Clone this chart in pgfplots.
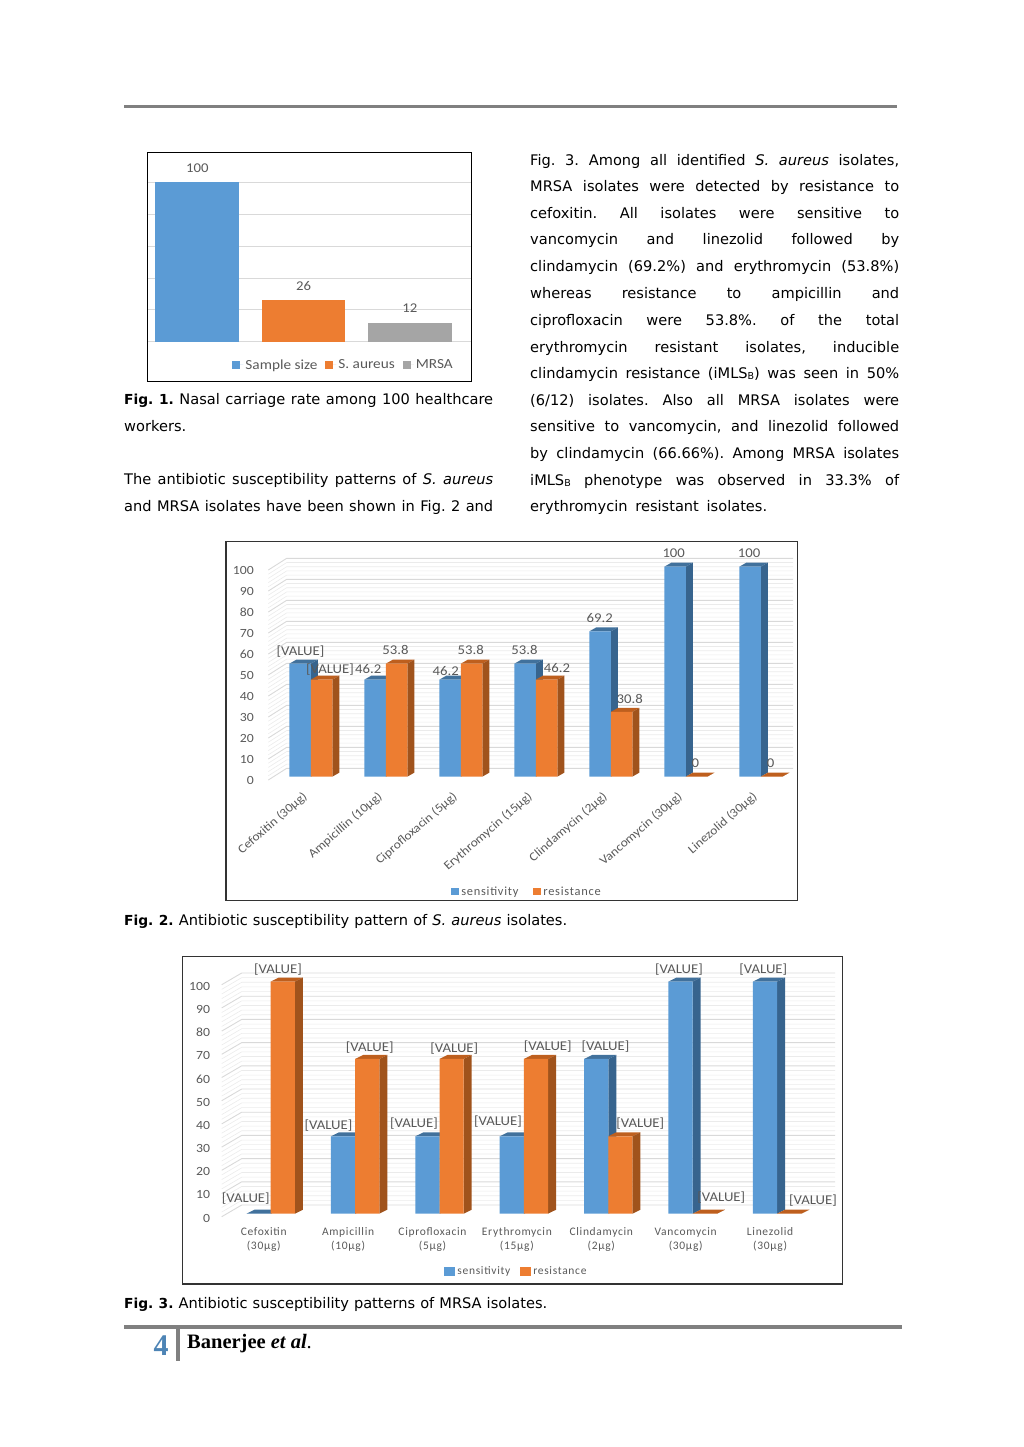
\documentclass[border=0pt]{standalone}
\usepackage{fontspec}
\usepackage{pgfplots}
\pgfplotsset{compat=1.18}
\setmainfont[FakeStretch=1.1]{Carlito}
\newfontfamily\bodyfont{DejaVu Sans}
\newfontfamily\timesfont{Liberation Serif}
\newfontfamily\spaced[LetterSpace=6]{Carlito}

\definecolor{cblue}{HTML}{5B9BD5}
\definecolor{corange}{HTML}{ED7D31}
\definecolor{cgray}{HTML}{A5A5A5}
\definecolor{cblueside}{HTML}{37648E}
\definecolor{cbluetop}{HTML}{41719C}
\definecolor{corangeside}{HTML}{A0531C}
\definecolor{corangetop}{HTML}{BE5F1E}
\definecolor{labelgray}{HTML}{595959}
\definecolor{rulegray}{HTML}{808080}

% one line of page text, stretched to a given width
\newcommand\jl[4]{\node[anchor=base west,inner sep=0pt] at (#1,#2) {\bodyfont\frenchspacing\fontsize{14.6}{16}\selectfont\makebox[#3pt][s]{#4}};}
\newcommand\lab[3]{\node[inner sep=0pt,text=labelgray,font=\fontsize{13.4}{15}\selectfont] at (#1,#2) {#3};}
\newcommand\sub[1]{\raisebox{-1pt}{\fontsize{9.5}{10}\selectfont #1}}
\newcommand\figl[1]{{\fontsize{13.8}{16}\selectfont\textbf{#1}}}

% slanted side and top of a bar, in axis units; \bw, \ddx, \ddy set per chart
\newcommand\faces[4]{%
  \pgfmathsetmacro\xl{#1+#2*\bw}%
  \pgfmathsetmacro\xr{\xl+\bw}%
  \pgfmathsetmacro\xlb{\xl+\ddx}%
  \pgfmathsetmacro\xrb{\xr+\ddx}%
  \pgfmathsetmacro\yb{#3+\ddy}%
  \addplot[fill=#4top,draw=none,mark=none,forget plot] coordinates {(\xl,#3)(\xr,#3)(\xrb,\yb)(\xlb,\yb)};
  \addplot[fill=#4side,draw=none,mark=none,forget plot] coordinates {(\xr,#3)(\xrb,\yb)(\xrb,\ddy)(\xr,0)};
}

% back wall and left wall lines of the 3D charts, in page pixels
\newcommand\wall[6]{% front x, back x, right x, back y of 0, px per unit, depth y
  \foreach \v in {0,2,...,100}{
    \pgfmathsetmacro\yy{#4-#5*\v}
    \pgfmathsetmacro\yf{\yy+#6}
    \pgfmathtruncatemacro\m{mod(\v,10)}
    \ifnum\m=0
      \draw[color=black!15,line width=0.9pt] (#1,\yf) -- (#2,\yy) -- (#3,\yy);
    \else
      \draw[color=black!8,line width=0.6pt] (#1,\yf) -- (#2,\yy) -- (#3,\yy);
    \fi
  }
}

\pgfplotsset{
  pagechart/.style={
    scale only axis, anchor=south west,
    axis line style={line width=1.3pt,color=black!80},
    major tick length=0pt,
    /pgf/number format/assume math mode=true,
    legend cell align=left,
    legend image code/.code={\fill[##1] (0pt,-3.5pt) rectangle (8pt,4pt);},
  },
  threed/.style={
    ymin=#1,
    ytick={0,10,...,100},
    xtick={0,1,2,3,4,5,6},
    yticklabel style={anchor=east,inner sep=0pt,text=labelgray,font=\fontsize{12.5}{14}\selectfont},
  },
}

\begin{document}
\begin{tikzpicture}[x=1pt,y=-1pt]
\path (0,0) rectangle (1023,1447);

% page rules
\draw[rulegray,line width=2.6pt] (124,106.5) -- (897,106.5);
\draw[rulegray,line width=4pt] (124,1327) -- (902,1327);
\draw[rulegray,line width=3.5pt] (178,1329) -- (178,1361);

% right column
\jl{530}{165.5}{369}{Fig. 3. Among all identified \textit{S. aureus} isolates,}
\jl{530}{192}{369}{MRSA isolates were detected by resistance to}
\jl{530}{218.5}{369}{cefoxitin. All isolates were sensitive to}
\jl{530}{245}{369}{vancomycin and linezolid followed by}
\jl{530}{272}{369}{clindamycin (69.2\%) and erythromycin (53.8\%)}
\jl{530}{298.5}{369}{whereas resistance to ampicillin and}
\jl{530}{325}{369}{ciprofloxacin were 53.8\%. of the total}
\jl{530}{352}{369}{erythromycin resistant isolates, inducible}
\jl{530}{378}{369}{clindamycin resistance (iMLS\sub{B}) was seen in 50\%}
\jl{530}{405}{369}{(6/12) isolates. Also all MRSA isolates were}
\jl{530}{431}{369}{sensitive to vancomycin, and linezolid followed}
\jl{530}{458}{369}{by clindamycin (66.66\%). Among MRSA isolates}
\jl{530}{485}{369}{iMLS\sub{B} phenotype was observed in 33.3\% of}
\jl{530}{511}{237}{erythromycin resistant isolates.}

% left column
\jl{124}{404}{369}{\figl{Fig. 1.} Nasal carriage rate among 100 healthcare}
\jl{124}{431}{62}{workers.}
\jl{124}{484}{369}{The antibiotic susceptibility patterns of \textit{S. aureus}}
\jl{124}{511}{369}{and MRSA isolates have been shown in Fig. 2 and}

% captions
\jl{124}{925}{443}{\figl{Fig. 2.} Antibiotic susceptibility pattern of \textit{S. aureus} isolates.}
\jl{124}{1308}{423}{\figl{Fig. 3.} Antibiotic susceptibility patterns of MRSA isolates.}

% footer
\node[anchor=base,inner sep=0pt,text=cblue!85!black] at (161,1355) {\timesfont\bfseries\fontsize{30}{32}\selectfont 4};
\node[anchor=base west,inner sep=0pt] at (187,1348) {\timesfont\fontsize{20.5}{23}\selectfont\textbf{Banerjee \textit{et al}}.};

% Fig. 1
\coordinate (f1) at (147,381);
\begin{axis}[pagechart, at={(f1)}, width=324pt, height=229pt,
  xmin=-0.473, xmax=2.575, ymin=-24.6, ymax=119,
  xtick=\empty, ytick={0,20,40,60,80,100}, yticklabels={},
  ymajorgrids, grid style={color=black!15,line width=0.9pt},
  axis line style={line width=1pt,color=black},
  legend columns=3,
  legend image code/.code={\fill[#1] (0pt,-4pt) rectangle (8pt,3.5pt); \path (0pt,0pt) -- (11pt,0pt);},
  legend style={at={(0.9506,0.07)},anchor=east,draw=none,fill=none,inner sep=0pt,text=labelgray,
    font=\fontsize{13.9}{15}\selectfont,
    /tikz/every even column/.style={column sep=6pt}},
  nodes near coords,
  every node near coord/.append style={anchor=center,yshift=14pt,text=labelgray,font=\fontsize{13.4}{15}\selectfont},
]
\addplot[ybar,bar shift=0pt,bar width=83.6pt,fill=cblue,draw=none] coordinates {(0,100)};
\addplot[ybar,bar shift=0pt,bar width=83.6pt,fill=corange,draw=none] coordinates {(1,26)};
\addplot[ybar,bar shift=0pt,bar width=83.6pt,fill=cgray,draw=none] coordinates {(2,12)};
\legend{Sample size, S. aureus, MRSA}
\end{axis}

% Fig. 2
\wall{268.3}{286.7}{793}{768.3}{2.1}{11.7}
\coordinate (f2) at (226,900.3);
\begin{axis}[pagechart, threed=-58.9, at={(f2)}, width=571.5pt, height=358.6pt,
  xmin=-1.131, xmax=6.489, ymax=111.9,
  yticklabel style={xshift=28pt,yshift=-4pt},
  xticklabels={Cefoxitin (30µg),Ampicillin (10µg),Ciprofloxacin (5µg),Erythromycin (15µg),Clindamycin (2µg),Vancomycin (30µg),Linezolid (30µg)},
  xticklabel style={rotate=41,anchor=north east,inner sep=0pt,text=labelgray,xshift=65.4pt,yshift=88.9pt,font=\fontsize{12.3}{14}\selectfont},
  legend columns=2,
  legend style={at={(0.5267,0.0237)},anchor=center,draw=none,fill=none,inner sep=0pt,text=labelgray,font=\spaced\fontsize{12.4}{14}\selectfont,
    /tikz/every even column/.style={column sep=13pt}},
]
\def\bw{0.2867}\def\ddx{0.0933}\def\ddy{1.9}
\foreach \i/\v in {0/53.8,1/46.2,2/46.2,3/53.8,4/69.2,5/100,6/100}{\faces{\i}{-1}{\v}{cblue}}
\addplot[ybar,bar shift=-10.75pt,bar width=21.5pt,fill=cblue,draw=none]
  coordinates {(0,53.8)(1,46.2)(2,46.2)(3,53.8)(4,69.2)(5,100)(6,100)};
\foreach \i/\v in {0/46.2,1/53.8,2/53.8,3/46.2,4/30.8,5/0,6/0}{\faces{\i}{0}{\v}{corange}}
\addplot[ybar,bar shift=10.75pt,bar width=21.5pt,fill=corange,draw=none]
  coordinates {(0,46.2)(1,53.8)(2,53.8)(3,46.2)(4,30.8)(5,0)(6,0)};
\legend{sensitivity,resistance}
\end{axis}
\lab{300.5}{652}{[VALUE]}
\lab{330}{669.3}{[VALUE]}
\lab{368.3}{668.7}{46.2}
\lab{395.5}{650}{53.8}
\lab{445.8}{670.7}{46.2}
\lab{470.8}{650}{53.8}
\lab{524.5}{650}{53.8}
\lab{557}{668.3}{46.2}
\lab{599.7}{618}{69.2}
\lab{629.8}{698.7}{30.8}
\lab{673.7}{553}{100}
\lab{695.3}{762.7}{0}
\lab{749}{553}{100}
\lab{770.7}{762.7}{0}

% Fig. 3
\wall{221.7}{241.7}{835}{1205}{2.32}{11.7}
\coordinate (f3) at (182.7,1284);
\begin{axis}[pagechart, threed=-30.3, at={(f3)}, width=659.6pt, height=327.7pt,
  xmin=-1.043, xmax=6.773, ymax=110.9,
  yticklabel style={xshift=27.5pt,yshift=-4.5pt},
  xticklabels={{Cefoxitin\\(30µg)},{Ampicillin\\(10µg)},{Ciprofloxacin\\(5µg)},{Erythromycin\\(15µg)},{Clindamycin\\(2µg)},{Vancomycin\\(30µg)},{Linezolid\\(30µg)}},
  xticklabel style={align=center,anchor=north,inner sep=0pt,text=labelgray,xshift=-7pt,yshift=57pt,font=\spaced\fontsize{11.5}{14}\selectfont},
  legend columns=2,
  legend image code/.code={\fill[#1] (3pt,-4.5pt) rectangle (14pt,4.5pt);},
  legend style={at={(0.506,0.0397)},anchor=center,draw=none,fill=none,inner sep=0pt,text=labelgray,
    font=\spaced\fontsize{11.5}{14}\selectfont,
    /tikz/every even column/.style={column sep=8pt}},
]
\def\bw{0.2867}\def\ddx{0.0948}\def\ddy{1.72}
\foreach \i/\v in {0/0,1/33.33,2/33.33,3/33.33,4/66.66,5/100,6/100}{\faces{\i}{-1}{\v}{cblue}}
\addplot[ybar,bar shift=-12.1pt,bar width=24.2pt,fill=cblue,draw=none]
  coordinates {(0,0)(1,33.33)(2,33.33)(3,33.33)(4,66.66)(5,100)(6,100)};
\foreach \i/\v in {0/100,1/66.66,2/66.66,3/66.66,4/33.33,5/0,6/0}{\faces{\i}{0}{\v}{corange}}
\addplot[ybar,bar shift=12.1pt,bar width=24.2pt,fill=corange,draw=none]
  coordinates {(0,100)(1,66.66)(2,66.66)(3,66.66)(4,33.33)(5,0)(6,0)};
\legend{sensitivity,resistance}
\end{axis}
\lab{245.8}{1198.7}{[VALUE]}
\lab{278}{970}{[VALUE]}
\lab{328.5}{1126}{[VALUE]}
\lab{369.7}{1047.3}{[VALUE]}
\lab{414}{1124}{[VALUE]}
\lab{454.3}{1049}{[VALUE]}
\lab{498}{1121.7}{[VALUE]}
\lab{547.8}{1047}{[VALUE]}
\lab{605.5}{1047}{[VALUE]}
\lab{640.3}{1124}{[VALUE]}
\lab{679}{970}{[VALUE]}
\lab{721.3}{1197.3}{[VALUE]}
\lab{763.3}{970}{[VALUE]}
\lab{813}{1201}{[VALUE]}
\end{tikzpicture}
\end{document}
